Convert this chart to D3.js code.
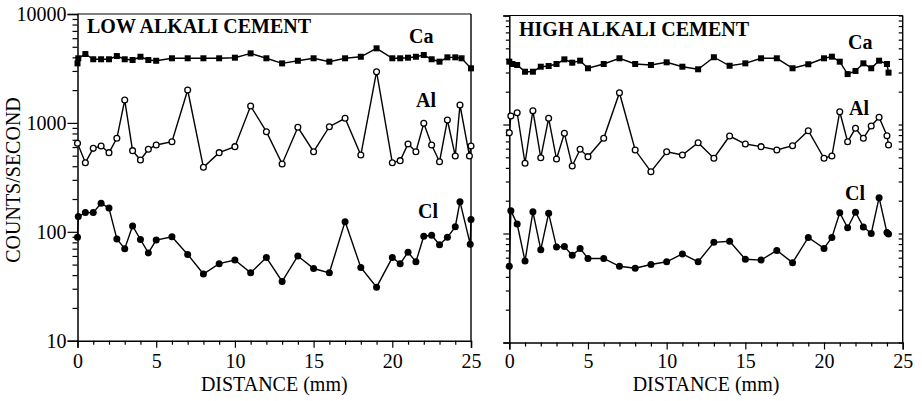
<!DOCTYPE html>
<html>
<head>
<meta charset="utf-8">
<script src="https://cdn.jsdelivr.net/npm/d3@7"></script>
<style>
  body { margin: 0; background: #fff; }
</style>
</head>
<body>
<svg id="chart" width="922" height="401"></svg>
<script>
// ---- data (distance in mm, counts/second) ----
const lowCaDist = [0, 0.05, 0.5, 1, 1.5, 2, 2.5, 3, 3.5, 4, 4.5, 5, 6, 7, 8, 9, 10, 11, 12, 13, 14, 15, 16, 17, 18, 19, 20, 20.5, 21, 21.5, 22, 22.5, 23, 23.5, 24, 24.4, 25];
const lowCa = [3520, 3920, 4290, 3840, 3840, 3840, 4110, 3840, 3780, 4050, 3780, 3720, 3920, 3920, 3920, 3920, 3970, 4350, 3920, 3520, 3720, 3920, 3650, 3920, 4050, 4840, 3920, 3920, 3970, 4050, 4200, 3840, 3650, 4000, 4000, 3920, 3170];

const lowAlDist = [0, 0.5, 1, 1.5, 2, 2.5, 3, 3.5, 4, 4.5, 5, 6, 7, 8, 9, 10, 11, 12, 13, 14, 15, 16, 17, 18, 19, 20, 20.5, 21, 21.5, 22, 22.5, 23, 23.5, 24, 24.3, 24.9, 25];
const lowAl = [650, 431, 584, 614, 533, 722, 1622, 556, 456, 572, 627, 672, 2005, 391, 533, 605, 1429, 830, 420, 911, 544, 923, 1102, 507, 2953, 431, 450, 640, 544, 991, 627, 440, 1063, 497, 1460, 497, 614];

const lowClDist = [0, 0.05, 0.5, 1, 1.5, 2, 2.5, 3, 3.5, 4, 4.5, 5, 6, 7, 8, 9, 10, 11, 12, 13, 14, 15, 16, 17, 18, 19, 20, 20.5, 21, 21.5, 22, 22.5, 23, 23.5, 24, 24.3, 24.95, 25];
const lowCl = [89, 138, 150, 150, 183, 165, 86, 70, 113, 85, 64, 84, 90, 62, 41, 51, 55, 42, 58, 35, 60, 46, 42, 124, 47, 31, 58, 51, 65, 53, 91, 93, 76, 89, 111, 189, 77, 130];

const highCaDist = [0, 0.2, 0.5, 1, 1.5, 2, 2.5, 3, 3.5, 4, 4.5, 5, 6, 7, 8, 9, 10, 11, 12, 13, 14, 15, 16, 17, 18, 19, 20, 20.5, 21, 21.5, 22, 22.5, 23, 23.5, 24, 24.1];
const highCa = [3770, 3590, 3515, 3050, 3050, 3390, 3440, 3590, 3960, 3690, 3850, 3280, 3590, 4050, 3590, 3515, 3720, 3390, 3210, 4140, 3460, 3640, 4050, 4050, 3280, 3570, 4050, 4190, 3770, 2900, 3100, 3640, 3280, 3850, 3590, 2990];

const highDist = [0, 0.1, 0.5, 1, 1.5, 2, 2.5, 3, 3.5, 4, 4.5, 5, 6, 7, 8, 9, 10, 11, 12, 13, 14, 15, 16, 17, 18, 19, 20, 20.5, 21, 21.5, 22, 22.5, 23, 23.5, 24, 24.1];
const highAl = [841, 1197, 1283, 441, 1339, 496, 1140, 482, 830, 416, 592, 507, 747, 1957, 583, 369, 563, 525, 681, 490, 784, 662, 626, 583, 639, 877, 490, 514, 1310, 695, 923, 747, 968, 1164, 789, 649];
const highCl = [50, 162, 122, 56, 158, 71, 153, 75, 76, 63, 73, 59, 59, 50, 48, 52, 55, 65, 55, 83, 85, 58, 57, 70, 54, 92, 73, 92, 155, 113, 157, 115, 100, 213, 102, 99];

const yTickLabels = [10, 100, 1000, 10000];
const xTickLabels = [0, 5, 10, 15, 20, 25];

const FONT = '"Liberation Serif"';
const zip = (xs, ys) => xs.map((d, i) => ({x: d, y: ys[i]}));

const panels = [
  {
    title: "LOW ALKALI CEMENT", titleX: 87, titleY: 33,
    xr: [77.5, 471], yr: [340.7, 14], yLabels: true, pad: 6,
    series: [
      {name: "Ca", pts: zip(lowCaDist, lowCa), mark: "square", lx: 409, ly: 43},
      {name: "Al", pts: zip(lowAlDist, lowAl), mark: "open", lx: 416, ly: 107},
      {name: "Cl", pts: zip(lowClDist, lowCl), mark: "dot", lx: 418, ly: 218}
    ]
  },
  {
    title: "HIGH ALKALI CEMENT", titleX: 519, titleY: 35.5,
    xr: [509.3, 902.7], yr: [342.5, 15.5], yLabels: false, pad: 4.5,
    series: [
      {name: "Ca", pts: zip(highCaDist, highCa), mark: "square", lx: 848, ly: 49},
      {name: "Al", pts: zip(highDist, highAl), mark: "open", lx: 849, ly: 115},
      {name: "Cl", pts: zip(highDist, highCl), mark: "dot", lx: 845, ly: 200}
    ]
  }
];

const svg = d3.select("#chart");
svg.append("rect").attr("width", 922).attr("height", 401).attr("fill", "#fff");

// all log ticks 10..10000
const logTicks = [];
for (let dec = 10; dec < 10000; dec *= 10)
  for (let k = 1; k < 10; k++) logTicks.push(dec * k);
logTicks.push(10000);

panels.forEach(p => {
  const x = d3.scaleLinear().domain([0, 25]).range(p.xr);
  const y = d3.scaleLog().domain([10, 10000]).range(p.yr);
  const g = svg.append("g");

  // frame: top and right
  g.append("line").attr("x1", p.xr[0]).attr("x2", p.xr[1]).attr("y1", p.yr[1]).attr("y2", p.yr[1])
    .attr("stroke", "#000").attr("stroke-width", 1.2);
  g.append("line").attr("x1", p.xr[1]).attr("x2", p.xr[1]).attr("y1", p.yr[1]).attr("y2", p.yr[0])
    .attr("stroke", "#000").attr("stroke-width", 1.4);

  // left axis
  const majorLen = p.yLabels ? 10 : 6, minorLen = p.yLabels ? 5 : 3.5;
  const ya = g.append("g").attr("transform", `translate(${p.xr[0]},0)`)
    .call(d3.axisLeft(y).tickValues(logTicks).tickSize(majorLen).tickPadding(1)
      .tickFormat(d => (p.yLabels && yTickLabels.includes(d)) ? d : ""));
  ya.selectAll(".tick line").attr("x2", d => yTickLabels.includes(d) ? -majorLen : -minorLen);

  // right side inner ticks on the high-alkali panel
  if (!p.yLabels) {
    const yr = g.append("g").attr("transform", `translate(${p.xr[1]},0)`)
      .call(d3.axisRight(y).tickValues(logTicks).tickSize(-4).tickFormat(""));
    yr.select(".domain").remove();
  }

  // bottom axis
  const xa = g.append("g").attr("transform", `translate(0,${p.yr[0]})`)
    .call(d3.axisBottom(x).tickValues(d3.range(0, 26)).tickSize(7).tickPadding(p.pad)
      .tickFormat(d => xTickLabels.includes(d) ? d : ""));
  xa.selectAll(".tick line").attr("y2", d => d % 5 === 0 ? 7 : 4);

  g.selectAll(".tick text").style("font-family", FONT).style("font-size", "20px");
  g.selectAll(".domain").attr("stroke-width", 1.5);
  g.selectAll(".tick line").attr("stroke-width", 1.2);

  g.append("text").attr("x", (p.xr[0] + p.xr[1]) / 2).attr("y", 391)
    .attr("text-anchor", "middle").style("font-family", FONT).style("font-size", "20px")
    .text("DISTANCE (mm)");

  g.append("text").attr("x", p.titleX).attr("y", p.titleY)
    .style("font-family", FONT).style("font-size", "20px").style("font-weight", "bold")
    .text(p.title);

  const line = d3.line().x(d => x(d.x)).y(d => y(d.y));
  p.series.forEach(s => {
    g.append("path").datum(s.pts).attr("d", line)
      .attr("fill", "none").attr("stroke", "#000").attr("stroke-width", 1.4);
    const m = g.append("g");
    if (s.mark === "square") {
      m.selectAll("rect").data(s.pts).join("rect")
        .attr("x", d => x(d.x) - 3).attr("y", d => y(d.y) - 3)
        .attr("width", 6).attr("height", 6).attr("fill", "#000");
    } else if (s.mark === "open") {
      m.selectAll("circle").data(s.pts).join("circle")
        .attr("cx", d => x(d.x)).attr("cy", d => y(d.y)).attr("r", 2.9)
        .attr("fill", "#fff").attr("stroke", "#000").attr("stroke-width", 1.3);
    } else {
      m.selectAll("circle").data(s.pts).join("circle")
        .attr("cx", d => x(d.x)).attr("cy", d => y(d.y)).attr("r", 3.5)
        .attr("fill", "#000");
    }
    g.append("text").attr("x", s.lx).attr("y", s.ly)
      .style("font-family", FONT).style("font-size", "20px").style("font-weight", "bold")
      .text(s.name);
  });
});

svg.append("text").attr("transform", "translate(20,180) rotate(-90)")
  .attr("text-anchor", "middle").style("font-family", FONT).style("font-size", "20px")
  .text("COUNTS/SECOND");
</script>
</body>
</html>
